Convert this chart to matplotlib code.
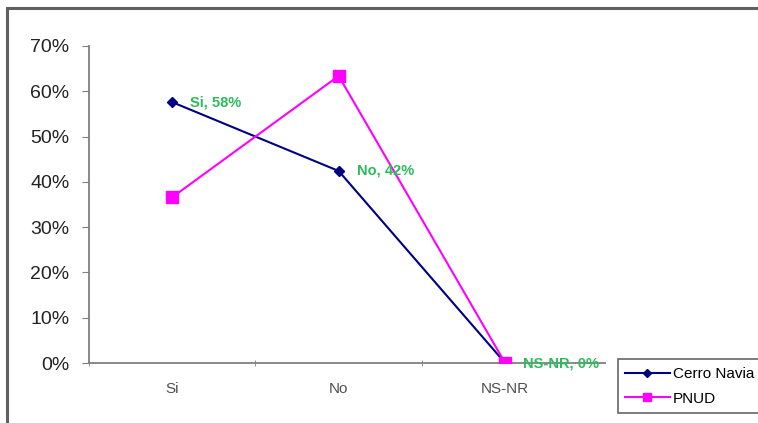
import matplotlib.pyplot as plt
from matplotlib.patches import Rectangle
from matplotlib.ticker import PercentFormatter

plt.rcParams['font.family'] = ['Liberation Sans', 'DejaVu Sans']

categories = ['Si', 'No', 'NS-NR']
cerro_navia = [0.576, 0.424, 0.0]
pnud = [0.366, 0.634, 0.0]
point_labels = ['Si, 58%', 'No, 42%', 'NS-NR, 0%']
yticks = [0.0, 0.1, 0.2, 0.3, 0.4, 0.5, 0.6, 0.7]

W, H = 758, 423
fig = plt.figure(figsize=(W / 100, H / 100), dpi=100)
fig.patch.set_facecolor('white')

# gray frame on the left and top
fig.patches.append(Rectangle((7 / W, -0.1), 1.2, 1 - 8 / H + 0.1, transform=fig.transFigure,
                             fill=False, edgecolor='#606060', linewidth=2.2, zorder=0))

ax = fig.add_axes([89 / W, 1 - 363 / H, (605 - 89) / W, (363 - 46) / H])
x = list(range(len(categories)))

ax.plot(x, cerro_navia, color='#000080', lw=1.5, marker='D', ms=5.5, label='Cerro Navia', zorder=3)
ax.plot(x, pnud, color='#ff00ff', lw=1.5, marker='s', ms=8, label='PNUD', zorder=3)

for xi, yi, lab in zip(x, cerro_navia, point_labels):
    ax.annotate(lab, (xi, yi), xytext=(13, 0), textcoords='offset points',
                va='center', ha='left', color='#2dbb5a', fontsize=10.5,
                fontweight='bold', zorder=4)

ax.set_xlim(-0.5, 2.6)
ax.set_ylim(0, 0.7)
ax.set_yticks(yticks)
ax.yaxis.set_major_formatter(PercentFormatter(1.0, decimals=0))
ax.set_xticks(x)
ax.set_xticklabels(categories)
ax.set_xticks([-0.5, 0.5, 1.5], minor=True)
ax.tick_params(axis='x', which='major', length=0, pad=14, labelsize=11, labelcolor='#505050')
ax.tick_params(axis='x', which='minor', length=4, direction='inout', color='#808080')
ax.tick_params(axis='y', length=5, pad=9, color='#808080', labelsize=14, labelcolor='#222222')

for s in ['top', 'right']:
    ax.spines[s].set_visible(False)
for s in ['left', 'bottom']:
    ax.spines[s].set_color('#808080')
    ax.spines[s].set_linewidth(1.3)

leg = fig.legend(loc='lower left', bbox_to_anchor=(610 / W, 1 - 421 / H, (770 - 610) / W, 59 / H),
                 mode='expand', frameon=True, fancybox=False, fontsize=11,
                 handlelength=2.9, borderpad=0.5, labelspacing=0.7, handletextpad=0.2,
                 markerscale=0.8)
leg.get_frame().set_edgecolor('#404040')
leg.get_frame().set_linewidth(1.2)

fig.savefig('out.png', dpi=100)
